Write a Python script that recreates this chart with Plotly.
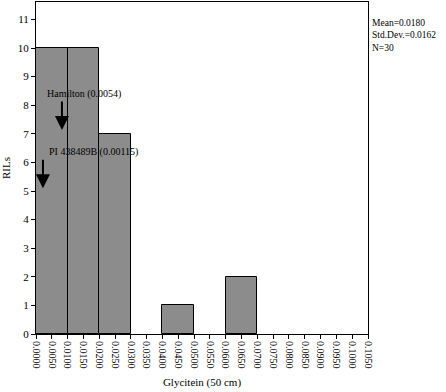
import plotly.graph_objects as go

bin_left = [0.00, 0.01, 0.02, 0.04, 0.06]
counts = [10, 10, 7, 1, 2]
bin_width = 0.01
x_ticks = [round(i * 0.005, 4) for i in range(22)]
y_ticks = list(range(12))
stats_text = ["Mean=0.0180", "Std.Dev.=0.0162", "N=30"]

FONT = "Liberation Serif, Times New Roman, serif"

fig = go.Figure()
fig.add_trace(go.Bar(
    x=[b + bin_width / 2 for b in bin_left],
    y=counts,
    width=bin_width,
    marker=dict(color="#8c8c8c", line=dict(color="black", width=1)),
))

axis_common = dict(
    showline=True, linecolor="black", linewidth=1, mirror=True, automargin=False,
    ticks="outside", ticklen=4, tickcolor="black", showgrid=False, zeroline=False,
)
fig.update_xaxes(range=[0, 0.105], tickvals=x_ticks, ticktext=[f"{v:.4f}" for v in x_ticks],
                 tickangle=90, tickfont=dict(size=10, color="black"),
                 title=dict(text="Glycitein (50 cm)", font=dict(size=11, color="black"), standoff=10),
                 **axis_common)
fig.update_yaxes(range=[0, 11.61], tickvals=y_ticks, tickfont=dict(size=11, color="black"),
                 title=dict(text="RILs", font=dict(size=11, color="black"), standoff=8),
                 **axis_common)

# annotations
fig.add_annotation(x=0.0029, y=8.39, text="Hamilton (0.0054)", showarrow=False,
                   xanchor="left", font=dict(size=10, color="black"))
fig.add_annotation(x=0.0082, y=7.13, ax=0, ay=-30, axref="pixel", ayref="pixel",
                   text="", showarrow=True, arrowhead=2, arrowsize=1.4, arrowwidth=2, arrowcolor="black")
fig.add_annotation(x=0.0035, y=6.36, text="PI 438489B (0.00115)", showarrow=False,
                   xanchor="left", font=dict(size=10, color="black"))
fig.add_annotation(x=0.0022, y=5.1, ax=0, ay=-30, axref="pixel", ayref="pixel",
                   text="", showarrow=True, arrowhead=2, arrowsize=1.4, arrowwidth=2, arrowcolor="black")

fig.add_annotation(x=1.0, xshift=2, y=10.45, xref="paper", yref="y", xanchor="left", yanchor="middle",
                   text="<br>".join(stats_text), align="left", showarrow=False,
                   font=dict(size=9.5, color="black"))

fig.update_layout(
    width=446, height=392,
    margin=dict(l=36, r=78, t=2, b=58),
    plot_bgcolor="white", paper_bgcolor="white",
    font=dict(family=FONT, color="black"),
    showlegend=False, bargap=0,
)
fig.write_html("out.html", config={"displayModeBar": False},
               post_script="document.body.style.margin='0px';document.body.style.overflow='hidden';")
